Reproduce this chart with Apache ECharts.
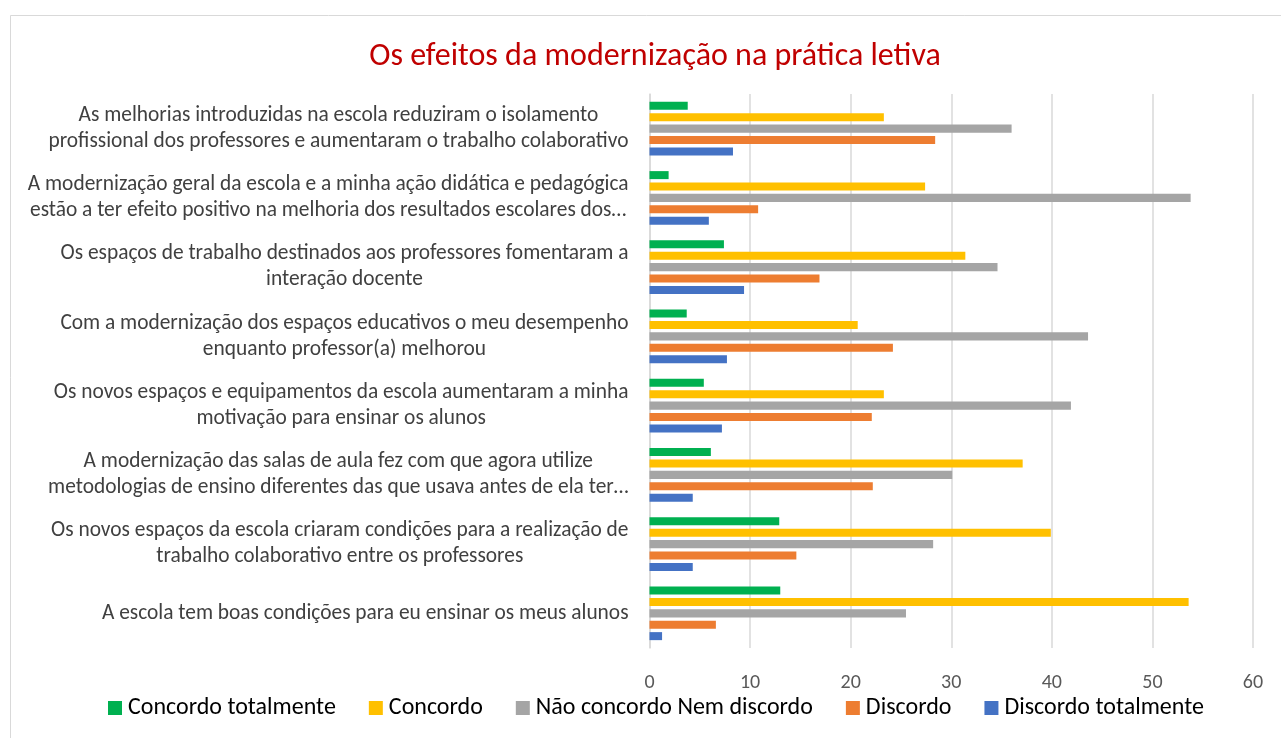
<!DOCTYPE html>
<html>
<head>
<meta charset="utf-8">
<script src="https://cdn.jsdelivr.net/npm/echarts@6/dist/echarts.min.js"></script>
<style>
  html, body { margin: 0; padding: 0; background: #fff; }
  #chart { width: 1281px; height: 738px; }
</style>
</head>
<body>
<div id="chart"></div>
<script>
// categories, top to bottom
const categories = [
  'As melhorias introduzidas na escola reduziram o isolamento\nprofissional dos professores e aumentaram o trabalho colaborativo',
  'A modernização geral da escola e a minha ação didática e pedagógica\nestão a ter efeito positivo na melhoria dos resultados escolares dos…',
  'Os espaços de trabalho destinados aos professores fomentaram a\ninteração docente',
  'Com a modernização dos espaços educativos o meu desempenho\nenquanto professor(a) melhorou',
  'Os novos espaços e equipamentos da escola aumentaram a minha\nmotivação para ensinar os alunos',
  'A modernização das salas de aula fez com que agora utilize\nmetodologias de ensino diferentes das que usava antes de ela ter…',
  'Os novos espaços da escola criaram condições para a realização de\ntrabalho colaborativo entre os professores',
  'A escola tem boas condições para eu ensinar os meus alunos'
];

const seriesNames = ['Concordo totalmente', 'Concordo', 'Não concordo Nem discordo', 'Discordo', 'Discordo totalmente'];

const concordoTotalmente = [3.8, 1.9, 7.4, 3.7, 5.4, 6.1, 12.9, 13.0];
const concordo = [23.3, 27.4, 31.4, 20.7, 23.3, 37.1, 39.9, 53.6];
const naoConcordoNemDiscordo = [36.0, 53.8, 34.6, 43.6, 41.9, 30.1, 28.2, 25.5];
const discordo = [28.4, 10.8, 16.9, 24.2, 22.1, 22.2, 14.6, 6.6];
const discordoTotalmente = [8.3, 5.9, 9.4, 7.7, 7.2, 4.3, 4.3, 1.25];

const xTicks = [0, 10, 20, 30, 40, 50, 60];

const colors = ['#00B050', '#FFC000', '#A5A5A5', '#ED7D31', '#4472C4'];
const values = [concordoTotalmente, concordo, naoConcordoNemDiscordo, discordo, discordoTotalmente];

const FONT = 'Carlito, Lato, sans-serif';

const chart = echarts.init(document.getElementById('chart'));

chart.setOption({
  backgroundColor: '#fff',
  animation: false,
  color: colors,
  title: {
    text: 'Os efeitos da modernização na prática letiva',
    left: 655,
    top: 41,
    padding: 0,
    textAlign: 'center',
    textStyle: { color: '#C00000', fontSize: 32, fontWeight: 'normal', fontFamily: FONT }
  },
  graphic: [{
    type: 'rect',
    z: -10,
    shape: { x: 10.5, y: 15.5, width: 1300, height: 800 },
    style: { fill: 'none', stroke: '#D9D9D9', lineWidth: 1 }
  }],
  legend: {
    data: seriesNames,
    top: 696,
    left: 108,
    width: 1160,
    padding: 0,
    icon: 'rect',
    itemWidth: 14,
    itemHeight: 14,
    itemGap: 33,
    textStyle: { color: '#000', fontSize: 24, lineHeight: 24, fontFamily: FONT, padding: [0, 0, 0, 1] }
  },
  grid: { left: 649.5, right: 28, top: 94, bottom: 90 },
  xAxis: {
    type: 'value',
    min: xTicks[0],
    max: xTicks[xTicks.length - 1],
    interval: 10,
    axisLine: { show: false },
    axisTick: { show: false },
    splitLine: { lineStyle: { color: '#D9D9D9', width: 1.5 } },
    axisLabel: { color: '#595959', fontSize: 20, fontFamily: FONT, margin: 25 }
  },
  yAxis: {
    type: 'category',
    inverse: true,
    data: categories,
    axisLine: { lineStyle: { color: '#D9D9D9', width: 1.5 } },
    axisTick: { show: false },
    axisLabel: {
      margin: 21,
      align: 'right',
      color: '#404040',
      fontSize: 21.4,
      fontFamily: FONT,
      lineHeight: 26,
      formatter: function (v) {
        return v.split('\n').map(function (l) { return '{c|' + l + '}'; }).join('\n');
      },
      rich: { c: { align: 'center', fontSize: 21.4, fontFamily: FONT, color: '#404040', lineHeight: 26 } }
    }
  },
  series: seriesNames.map(function (name, i) {
    return {
      name: name,
      type: 'bar',
      data: values[i],
      barGap: '42%',
      barCategoryGap: '22.7%'
    };
  })
});
</script>
</body>
</html>
